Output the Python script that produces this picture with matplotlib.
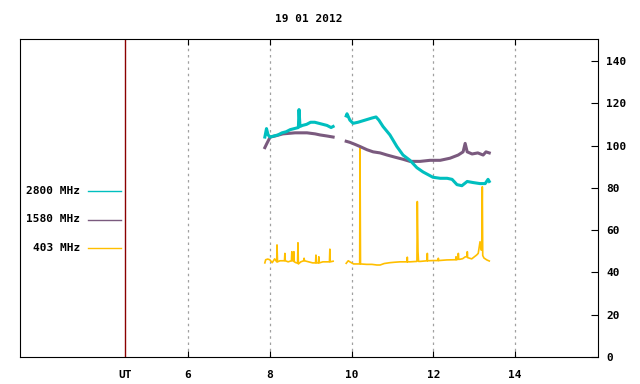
import matplotlib
matplotlib.use("Agg")
import matplotlib.pyplot as plt
from matplotlib.lines import Line2D

# radio flux, hours UT
title = "19 01 2012"
labels = ["2800 MHz", "1580 MHz", "403 MHz"]
colors = ["#00bfbf", "#7a5a7e", "#ffbf00"]
ut_pos = 4.46
hour_ticks = [6, 8, 10, 12, 14]
y_ticks = [0, 20, 40, 60, 80, 100, 120, 140]

# 2800 MHz
c_t1 = [7.88, 7.92, 7.96, 8.01, 8.1, 8.2, 8.3, 8.4, 8.5, 8.6, 8.7, 8.716, 8.74,
        8.8, 8.9, 9.0, 9.1, 9.2, 9.3, 9.4, 9.5, 9.55]
c_v1 = [104, 108, 105, 104, 104.5, 105, 106, 106.5, 107.5, 108, 108.5, 117, 109,
        109.5, 110, 111, 111, 110.5, 110, 109.5, 108.5, 109]
c_t2 = [9.87, 9.89, 9.96, 10.04, 10.16, 10.33, 10.50, 10.60, 10.67, 10.77, 10.94,
        11.11, 11.26, 11.43, 11.60, 11.75, 11.99, 12.17, 12.34, 12.46, 12.58, 12.70,
        12.83, 12.97, 13.14, 13.27, 13.34, 13.37]
c_v2 = [114, 115, 112, 110.5, 111, 112, 113, 113.5, 112, 109, 105,
        99.5, 95.5, 93, 89.5, 87.5, 85, 84.5, 84.5, 84, 81.5, 81,
        83, 82.5, 82, 82, 84, 83]

# 1580 MHz
p_t1 = [7.88, 7.93, 8.01, 8.13, 8.32, 8.62, 8.91, 9.11, 9.23, 9.40, 9.55]
p_v1 = [99, 101, 104, 104.5, 105.5, 106, 106, 105.5, 105, 104.5, 104]
p_t2 = [9.87, 9.96, 10.09, 10.21, 10.38, 10.53, 10.70, 10.87, 11.06, 11.26, 11.43,
        11.68, 11.92, 12.17, 12.41, 12.61, 12.73, 12.78, 12.83, 12.95, 13.09, 13.22,
        13.29, 13.37]
p_v2 = [102, 101.5, 100.5, 99.5, 98, 97, 96.5, 95.5, 94.5, 93.5, 92.5,
        92.5, 93, 93, 94, 95.5, 97, 101, 97, 96, 96.5, 95.5,
        97, 96.5]

# 403 MHz
g_t1 = [7.88, 7.90, 7.95, 8.00, 8.06, 8.12, 8.17, 8.177, 8.19, 8.25, 8.32, 8.36,
        8.37, 8.38, 8.45, 8.53, 8.54, 8.55, 8.58, 8.59, 8.60, 8.65, 8.68, 8.69,
        8.70, 8.76, 8.83, 8.84, 8.85, 8.95, 9.05, 9.12, 9.13, 9.14, 9.19, 9.20,
        9.21, 9.30, 9.40, 9.46, 9.47, 9.48, 9.55]
g_v1 = [44.5, 46, 46.3, 46, 44.6, 46.4, 45, 53, 45, 45.5, 45.5, 45.5,
        49, 45.5, 45, 45.5, 49.8, 45.5, 45.5, 49.8, 45, 44.5, 44.5, 54,
        44, 45, 45.5, 46.7, 45.5, 45, 44.5, 44.5, 48.2, 44.5, 44.5, 47.4,
        44.5, 45, 45, 45, 51, 45, 45.3]
g_t2 = [9.87, 9.92, 9.96, 10.05, 10.2, 10.208, 10.22, 10.37, 10.5, 10.62, 10.70,
        10.80, 10.94, 11.05, 11.19, 11.36, 11.365, 11.37, 11.43, 11.60, 11.61,
        11.627, 11.64, 11.68, 11.85, 11.855, 11.86, 12.0, 12.12, 12.124, 12.13,
        12.33, 12.55, 12.557, 12.565, 12.61, 12.613, 12.62, 12.65, 12.72, 12.777,
        12.83, 12.833, 12.84, 12.94, 13.06, 13.10, 13.144, 13.17, 13.185, 13.20,
        13.21, 13.24, 13.31, 13.37]
g_v2 = [44.3, 45.5, 45, 44, 44, 98.5, 44, 43.8, 43.8, 43.5, 43.5,
        44.2, 44.6, 44.8, 45, 45, 47.2, 45, 45, 45.2, 73.5,
        49.8, 45.2, 45.2, 45.5, 49, 45.5, 45.6, 45.6, 46.7, 45.6,
        45.9, 46, 47.4, 46, 46.2, 49, 46.2, 46.2, 46.5, 47.3,
        47.5, 49.8, 47, 46.4, 48.2, 49, 54.5, 50.6, 50.6, 80.5,
        48, 46.8, 45.9, 45.4]

W, H = 640, 384
plt.rcParams['font.family'] = ['DejaVu Sans Mono']
plt.rcParams['font.weight'] = 'bold'
fs = 8

fig = plt.figure(figsize=(6.4, 3.84), dpi=100)
ax = fig.add_axes([20 / W, 27 / H, 578 / W, 318.5 / H])
ax.set_xlim(1.89, 16.03)
ax.set_ylim(0, 150.6)

for h in hour_ticks:
    ax.axvline(h, color="#a0a0a0", lw=0.9, ls=(0, (2, 3)), zorder=1)
ax.axvline(ut_pos, color="#8b0000", lw=1.0, zorder=2)

ax.plot(g_t1, g_v1, color=colors[2], lw=1.2, zorder=3)
ax.plot(g_t2, g_v2, color=colors[2], lw=1.2, zorder=3)
ax.plot(p_t1, p_v1, color=colors[1], lw=2.2, zorder=4)
ax.plot(p_t2, p_v2, color=colors[1], lw=2.2, zorder=4)
ax.plot(c_t1, c_v1, color=colors[0], lw=2.2, zorder=5)
ax.plot(c_t2, c_v2, color=colors[0], lw=2.2, zorder=5)

ax.set_xticks(hour_ticks)
ax.set_xticklabels([str(h) for h in hour_ticks], fontsize=fs, fontweight='bold')
ax.tick_params(axis='x', direction='in', length=4, width=0.8, top=True, pad=9)
ax.yaxis.tick_right()
ax.set_yticks(y_ticks)
ax.set_yticklabels([str(v) for v in y_ticks], fontsize=fs, fontweight='bold')
ax.tick_params(axis='y', direction='in', length=5, width=0.8, left=False, right=True, pad=6)
for s in ax.spines.values():
    s.set_linewidth(0.8)

ax.text(ut_pos, -0.055, "UT", transform=ax.get_xaxis_transform(),
        ha='center', va='center', fontsize=fs, fontweight='bold')

fig.text(309 / W, 1 - 19 / H, title, ha='center', va='center', fontsize=fs, fontweight='bold')

leg_y = [191, 219.5, 248]
for lab, col, yy in zip(labels, colors, leg_y):
    fig.text(80 / W, 1 - yy / H, lab, ha='right', va='center', fontsize=fs, fontweight='bold')
    fig.add_artist(Line2D([88 / W, 121 / W], [1 - yy / H, 1 - yy / H], color=col, lw=1.0))

fig.savefig("out.png", dpi=100)
